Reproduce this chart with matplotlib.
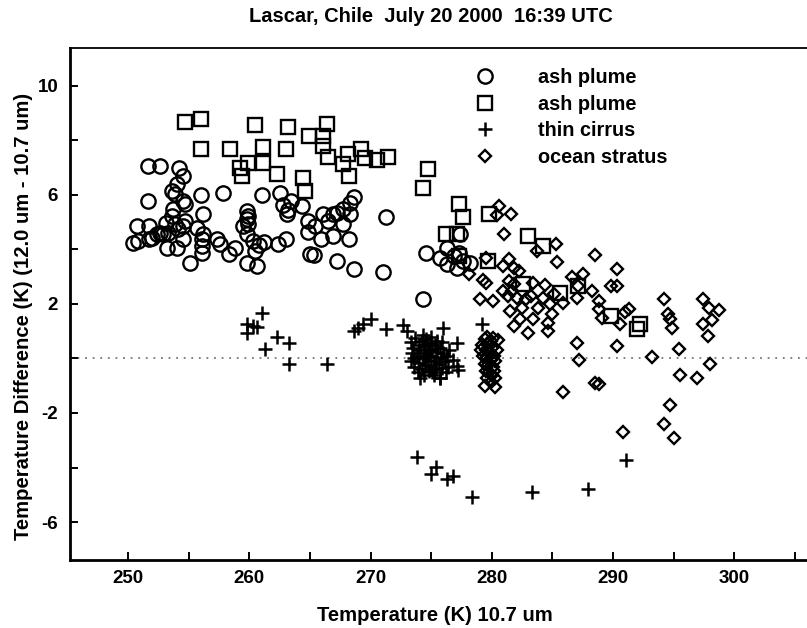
import matplotlib
matplotlib.use("Agg")
import matplotlib.pyplot as plt

plt.rcParams['font.family'] = ['Liberation Sans', 'DejaVu Sans']
plt.rcParams['font.weight'] = 'bold'
plt.rcParams['axes.labelweight'] = 'bold'
plt.rcParams['axes.unicode_minus'] = False

title = "Lascar, Chile  July 20 2000  16:39 UTC"
x_label = "Temperature (K) 10.7 um"
y_label = "Temperature Difference (K) (12.0 um - 10.7 um)"
legend_labels = ["ash plume", "ash plume", "thin cirrus", "ocean stratus"]

# ash plume (circles)
circle_x = [251.6, 252.6, 254.2, 254.5, 254.0, 253.6, 253.9, 251.6, 254.5, 254.7,
            256.0, 257.8, 261.0, 262.5, 262.8, 263.4, 264.3, 263.2, 263.1, 259.8,
            259.9, 256.2, 253.7, 253.6, 253.1, 253.9, 254.7, 250.7, 251.7, 252.6,
            252.4, 252.0, 250.4, 250.8, 251.7, 252.9, 253.3, 254.1, 254.5, 255.7,
            254.5, 253.2, 254.0, 255.1, 256.1, 256.2, 256.1, 256.1, 257.3, 257.6,
            258.3, 258.8, 259.8, 259.5, 259.9, 259.8, 260.3, 260.8, 261.2, 260.5,
            259.8, 260.6, 262.4, 263.0, 264.8, 264.8, 265.0, 268.6, 268.3, 267.7,
            267.2, 266.1, 271.3, 265.4, 266.5, 266.9, 268.3, 267.7, 266.9, 265.9,
            268.2, 265.3, 267.2, 268.6, 271.0, 274.3, 274.6, 275.7, 276.3, 276.3,
            276.9, 277.3, 277.6, 278.2, 277.1, 277.4]
circle_y = [7.04, 7.04, 6.97, 6.68, 6.39, 6.13, 6.02, 5.77, 5.77, 5.66,
            5.99, 6.06, 5.99, 6.06, 5.62, 5.77, 5.58, 5.45, 5.30, 5.40,
            5.22, 5.29, 5.47, 5.22, 4.96, 4.93, 5.04, 4.85, 4.85, 4.60,
            4.56, 4.42, 4.23, 4.31, 4.38, 4.56, 4.60, 4.74, 4.85, 4.78,
            4.38, 4.05, 4.05, 3.50, 4.38, 4.56, 4.12, 3.87, 4.38, 4.20,
            3.83, 4.05, 5.11, 4.85, 4.93, 4.56, 4.31, 4.15, 4.25, 3.94,
            3.50, 3.39, 4.20, 4.38, 5.04, 4.62, 3.83, 5.91, 5.69, 5.47,
            5.33, 5.29, 5.20, 4.85, 5.04, 5.29, 5.29, 4.93, 4.49, 4.38,
            4.38, 3.80, 3.58, 3.28, 3.18, 2.19, 3.87, 3.69, 4.05, 3.47,
            3.76, 3.87, 3.58, 3.50, 3.32, 4.56]

# ash plume (squares)
square_x = [254.7, 256.0, 260.5, 263.2, 264.9, 256.0, 258.4, 261.1, 263.0, 259.2,
            259.9, 261.1, 262.3, 259.4, 264.4, 264.6, 266.4, 266.1, 266.1, 266.5,
            268.1, 267.7, 268.2, 269.2, 269.5, 270.5, 271.4, 274.7, 274.3, 277.3,
            277.6, 279.8, 276.2, 277.1, 277.3, 283.0, 284.2, 279.7, 282.6, 285.6,
            287.1, 289.8, 292.0, 292.2]
square_y = [8.65, 8.76, 8.54, 8.47, 8.14, 7.66, 7.66, 7.74, 7.66, 6.97,
            7.15, 7.15, 6.75, 6.68, 6.60, 6.15, 8.58, 8.14, 7.77, 7.37,
            7.48, 7.12, 6.68, 7.66, 7.34, 7.26, 7.37, 6.93, 6.24, 5.66,
            5.20, 5.29, 4.56, 4.56, 3.76, 4.49, 4.12, 3.58, 2.74, 2.41,
            2.66, 1.57, 1.09, 1.28]

# thin cirrus (plus)
plus_x = [261.0, 259.8, 260.3, 260.6, 259.8, 261.3, 262.3, 263.3, 263.3, 268.6,
          269.0, 269.4, 270.0, 271.3, 272.7, 273.0, 276.0, 277.1, 279.2, 266.4,
          273.3, 273.4, 273.3, 273.5, 273.6, 273.7, 273.8, 273.9, 274.0, 274.0,
          274.1, 274.2, 274.2, 274.3, 274.4, 274.4, 274.5, 274.5, 274.6, 274.7,
          274.7, 274.8, 274.9, 274.9, 275.0, 275.0, 275.1, 275.2, 275.2, 275.3,
          275.4, 275.4, 275.5, 275.5, 275.6, 275.7, 275.7, 275.8, 275.9, 276.0,
          276.1, 276.2, 276.3, 276.4, 274.1, 273.6, 274.6, 275.1, 274.3, 275.9,
          276.8, 277.1, 277.2, 275.7, 276.5,
          273.8, 275.4, 275.0, 276.3, 276.8, 278.4, 283.3, 287.9, 291.1]
plus_y = [1.68, 1.28, 1.20, 1.17, 0.95, 0.36, 0.77, 0.55, -0.22, 0.99,
          1.13, 1.28, 1.46, 1.09, 1.22, 1.02, 1.11, 0.55, 1.28, -0.22,
          0.60, 0.20, -0.10, 0.40, -0.30, 0.75, 0.10, -0.50, 0.50, -0.15,
          0.30, 0.65, -0.40, 0.00, 0.45, -0.60, 0.20, -0.25, 0.70, -0.05,
          0.35, -0.45, 0.55, 0.10, -0.30, 0.80, 0.30, -0.10, -0.60, 0.50,
          0.05, -0.40, 0.65, 0.25, -0.20, 0.40, -0.70, 0.00, -0.35, 0.20,
          -0.10, -0.50, 0.10, -0.30, -0.70, 0.00, 0.05, -0.50, 0.85, 0.60,
          -0.07, -0.26, -0.44, -0.73, 0.30,
          -3.61, -3.98, -4.23, -4.41, -4.30, -5.09, -4.91, -4.79, -3.71]

# ocean stratus (diamonds)
diamond_x = [280.6, 280.4, 281.6, 281.0, 283.7, 279.5, 278.1, 279.3, 279.5, 280.9,
             281.4, 281.8, 282.2, 281.4, 281.8, 283.4, 284.4, 279.0, 280.1, 280.9,
             281.3, 281.7, 282.1, 282.8, 283.2, 283.8, 281.5, 282.5, 281.8, 283.0,
             283.4, 284.6, 282.3,
             285.3, 285.4, 288.5, 290.3, 284.2, 284.8, 285.1, 285.0, 285.9, 286.6,
             287.5, 287.1, 287.0, 288.3, 288.8, 289.8, 290.3, 288.8, 289.1, 290.6,
             291.3, 291.0, 284.6, 287.0, 287.2, 290.3, 293.2, 294.2, 294.5, 294.7,
             294.9, 295.4, 295.5, 296.9, 297.4, 297.9, 298.7, 298.2, 297.4, 297.8,
             298.0, 285.9, 288.5, 288.8, 290.8, 294.2, 294.7, 295.0,
             279.2, 279.4, 279.6, 279.3, 279.5, 279.7, 279.9, 280.5, 279.4, 279.6,
             279.8, 280.0, 280.2, 279.5, 279.7, 279.9, 280.1, 280.3, 279.6, 279.8,
             280.0, 280.2, 279.9, 280.3, 280.3, 279.1, 280.1, 280.4, 279.4]
diamond_y = [5.60, 5.25, 5.28, 4.56, 3.94, 3.69, 3.10, 2.88, 2.77, 3.39,
             3.65, 3.32, 3.21, 2.85, 2.74, 2.77, 2.70, 2.19, 2.12, 2.48,
             2.30, 2.48, 2.23, 2.19, 2.30, 1.86, 1.75, 1.86, 1.20, 0.95,
             1.46, 1.31, 1.46,
             4.20, 3.54, 3.80, 3.28, 2.23, 2.01, 2.37, 1.64, 2.04, 2.99,
             3.10, 2.66, 2.23, 2.48, 2.12, 2.66, 2.66, 1.82, 1.50, 1.28,
             1.82, 1.70, 1.02, 0.55, -0.04, 0.47, 0.07, 2.19, 1.64, 1.46,
             1.13, 0.36, -0.62, -0.73, 2.19, 1.86, 1.79, 1.42, 1.28, 0.84,
             -0.22, -1.24, -0.91, -0.95, -2.71, -2.40, -1.69, -2.92,
             0.50, 0.70, 0.80, 0.10, 0.30, 0.55, 0.65, 0.69, -0.20, 0.00,
             0.20, 0.40, 0.10, -0.45, -0.25, -0.05, -0.30, -0.10, -0.70, -0.50,
             -0.60, -0.45, -0.85, -0.73, -1.06, 0.30, 0.75, 0.30, -1.02]

x_major = [250, 260, 270, 280, 290, 300]
x_minor = [255, 265, 275, 285, 295, 305]
y_major = [-6, -2, 2, 6, 10]
y_minor = [-4, 0, 4, 8]

W, H = 807, 628
fig = plt.figure(figsize=(W / 100, H / 100), dpi=100)
ax = fig.add_axes([70 / W, 1 - 560 / H, (W - 70) / W, 512 / H])

ax.axhline(0, color="#777777", linestyle=(0, (1, 3.2)), linewidth=1.3, zorder=1)

ln_c, = ax.plot(circle_x, circle_y, "o", mfc="none", mec="black", ms=10.3, mew=1.7)
ln_s, = ax.plot(square_x, square_y, "s", mfc="none", mec="black", ms=9.6, mew=1.7)
ln_p, = ax.plot(plus_x, plus_y, "+", color="black", ms=9.4, mew=1.8)
ln_d, = ax.plot(diamond_x, diamond_y, "D", mfc="none", mec="black", ms=6.6, mew=1.7)

ax.set_xlim(245.2, 306.0)
ax.set_ylim(-7.39, 11.38)

ax.set_xticks(x_major)
ax.set_xticks(x_minor, minor=True)
ax.set_yticks(y_major)
ax.set_yticks(y_minor, minor=True)
ax.tick_params(which="both", direction="in", length=6, width=1.4, labelsize=13.5)
ax.tick_params(axis="x", pad=7)
ax.tick_params(axis="y", pad=8.5)

ax.spines["right"].set_visible(False)
ax.spines["left"].set_linewidth(2.0)
ax.spines["bottom"].set_linewidth(2.0)
ax.spines["top"].set_linewidth(1.3)

ax.set_xlabel(x_label, fontsize=14.6)
ax.xaxis.set_label_coords((435 - 70) / 737, (560 - 606) / 512)
ax.set_ylabel(y_label, fontsize=14.6)
ax.yaxis.set_label_coords((33 - 70) / 737, (560 - 316) / 512)

fig.text(431 / W, 1 - 16 / H, title, ha="center", va="center", fontsize=14.5)

ax.legend([ln_c, ln_s, ln_p, ln_d], legend_labels, loc="upper left",
          bbox_to_anchor=(471 / W, 1 - 68 / H), bbox_transform=fig.transFigure,
          frameon=False, fontsize=14.3, handlelength=1.4, handletextpad=1.95,
          labelspacing=0.38, borderpad=0, borderaxespad=0)

fig.savefig("out.png", dpi=100)
